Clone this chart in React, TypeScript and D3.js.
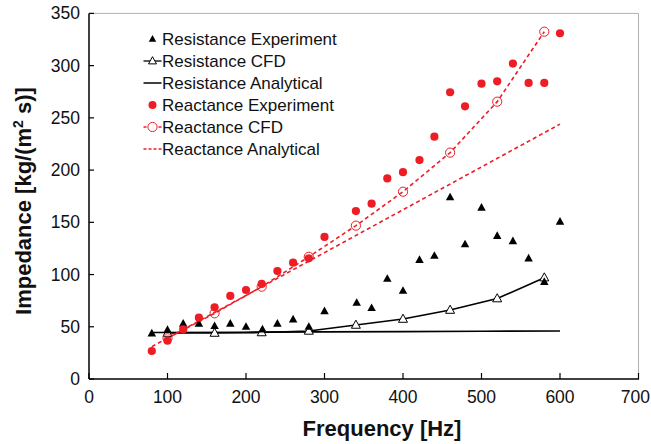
import React from "react";
import * as d3 from "d3";

const W = 651;
const H = 444;

const xTicks = [0, 100, 200, 300, 400, 500, 600, 700];
const yTicks = [0, 50, 100, 150, 200, 250, 300, 350];

const resExpF = [80, 100, 120, 140, 160, 180, 200, 221, 240, 260, 280, 300, 341, 360, 380, 400, 421, 440, 460, 479, 500, 520, 540, 560, 580, 600];
const resExpV = [43.7, 47, 53, 53, 50.7, 53, 50, 47.5, 53, 57, 50, 65, 73, 68, 96, 84.5, 114, 118, 174, 129, 164, 137, 132, 115.5, 93, 150.6];

const resCfdF = [100, 160, 220, 280, 340, 400, 460, 520, 580];
const resCfdV = [44, 44, 44.5, 46, 51.7, 57.4, 66, 77, 97];

const resAnaF = [80, 200, 300, 400, 500, 600];
const resAnaV = [44.5, 44.8, 45.1, 45.4, 45.7, 46];

const reaExpF = [80, 100, 120, 140, 160, 180, 200, 220, 240, 260, 280, 300, 340, 360, 380, 400, 421, 440, 460, 479, 500, 520, 540, 560, 580, 600];
const reaExpV = [26.8, 36.7, 47.5, 58.7, 68.6, 79.5, 85.2, 91, 103.4, 111.4, 115.5, 136, 160.8, 167.8, 192, 198, 209.6, 232, 274.5, 261, 282.7, 285, 302, 283.4, 283.4, 331];

const reaCfdF = [100, 160, 220, 280, 340, 400, 460, 520, 580];
const reaCfdV = [39, 62.9, 88.4, 117, 146.8, 179.3, 216.7, 265.5, 332.5];

const reaAnaF = [80, 200, 300, 400, 500, 600];
const reaAnaV = [31, 80, 121, 162, 203, 244];

const legendLabels = [
  "Resistance Experiment",
  "Resistance CFD",
  "Resistance Analytical",
  "Reactance Experiment",
  "Reactance CFD",
  "Reactance Analytical",
];

const FONT = "'Liberation Sans', Arial, sans-serif";
const RED = "#ee1c25";

function tri(cx: number, cy: number, s: number) {
  const h = s * 0.9;
  return `M${cx},${cy - h * 0.6}L${cx + s / 2},${cy + h * 0.4}L${cx - s / 2},${cy + h * 0.4}Z`;
}

export default function App() {
  const left = 89;
  const right = 638.5;
  const top = 13.4;
  const bottom = 379;
  const x = d3.scaleLinear().domain([0, 700]).range([left, right]);
  const y = d3.scaleLinear().domain([0, 350]).range([bottom, top]);
  const line = d3
    .line<[number, number]>()
    .x((d) => x(d[0]))
    .y((d) => y(d[1]));
  const zip = (a: number[], b: number[]) => a.map((v, i) => [v, b[i]] as [number, number]);

  const legX = 152.5;
  const legY0 = 39;
  const legDy = 22;
  const lastTick = xTicks[xTicks.length - 1];

  return (
    <svg width={W} height={H} style={{ position: "absolute", left: 0, top: 0 }} fontFamily={FONT}>
      <rect x={0} y={0} width={W} height={H} fill="#fff" />
      {/* frame */}
      <line x1={left} x2={right} y1={top} y2={top} stroke="#b0b0b0" strokeWidth={1} />
      <line x1={right} x2={right} y1={top} y2={bottom} stroke="#b0b0b0" strokeWidth={1} />
      {/* axes */}
      <line x1={left} x2={right + 0.5} y1={bottom} y2={bottom} stroke="#000" strokeWidth={1.5} />
      <line x1={left} x2={left} y1={top} y2={bottom} stroke="#000" strokeWidth={1.5} />
      {xTicks.map((t) => (
        <g key={"xt" + t}>
          <line x1={x(t)} x2={x(t)} y1={bottom} y2={bottom - 6} stroke="#000" strokeWidth={1.2} />
          <text
            x={t === lastTick ? W - 1 : x(t)}
            y={bottom + 24}
            textAnchor={t === lastTick ? "end" : "middle"}
            fontSize={17.5}
            fill="#111"
          >
            {t}
          </text>
        </g>
      ))}
      {yTicks.map((t) => (
        <g key={"yt" + t}>
          <line x1={left} x2={left + 5} y1={y(t)} y2={y(t)} stroke="#000" strokeWidth={1.2} />
          <text x={left - 9} y={y(t) + 6} textAnchor="end" fontSize={17.5} fill="#111">
            {t}
          </text>
        </g>
      ))}
      <text x={382} y={436} textAnchor="middle" fontSize={22} fontWeight="bold" fill="#111">
        Frequency [Hz]
      </text>
      <text
        transform={`translate(31,201) rotate(-90)`}
        textAnchor="middle"
        fontSize={22}
        fontWeight="bold"
        fill="#111"
      >
        Impedance [kg/(m
        <tspan dy={-8} fontSize={14}>2</tspan>
        <tspan dy={8}> s)]</tspan>
      </text>

      {/* lines */}
      <path d={line(zip(resAnaF, resAnaV)) || ""} fill="none" stroke="#000" strokeWidth={1.6} />
      <path d={line(zip(resCfdF, resCfdV)) || ""} fill="none" stroke="#000" strokeWidth={1.6} />
      <path d={line(zip(reaAnaF, reaAnaV)) || ""} fill="none" stroke={RED} strokeWidth={1.6} strokeDasharray="4,3" />
      <path d={line(zip(reaCfdF, reaCfdV)) || ""} fill="none" stroke={RED} strokeWidth={1.6} strokeDasharray="4,3" />

      {/* resistance CFD markers */}
      {resCfdF.map((f, i) => (
        <path key={"rc" + i} d={tri(x(f), y(resCfdV[i]), 9)} fill="#fff" stroke="#000" strokeWidth={1} />
      ))}
      {/* resistance exp */}
      {resExpF.map((f, i) => (
        <path key={"re" + i} d={tri(x(f), y(resExpV[i]), 8.5)} fill="#000" />
      ))}
      {/* reactance CFD markers */}
      {reaCfdF.map((f, i) => (
        <circle key={"xc" + i} cx={x(f)} cy={y(reaCfdV[i])} r={4.6} fill="none" stroke={RED} strokeWidth={1} />
      ))}
      {/* reactance exp */}
      {reaExpF.map((f, i) => (
        <circle key={"xe" + i} cx={x(f)} cy={y(reaExpV[i])} r={4.1} fill={RED} />
      ))}

      {/* legend */}
      {legendLabels.map((l, i) => {
        const cy = legY0 + i * legDy;
        let sym: React.ReactNode = null;
        if (i === 0) sym = <path d={tri(legX, cy, 7.5)} fill="#000" />;
        if (i === 1)
          sym = (
            <g>
              <line x1={legX - 9} x2={legX + 9} y1={cy} y2={cy} stroke="#000" strokeWidth={1.3} />
              <path d={tri(legX, cy, 8)} fill="#fff" stroke="#000" strokeWidth={1} />
            </g>
          );
        if (i === 2) sym = <line x1={legX - 9} x2={legX + 9} y1={cy} y2={cy} stroke="#000" strokeWidth={1.5} />;
        if (i === 3) sym = <circle cx={legX} cy={cy} r={4} fill={RED} />;
        if (i === 4)
          sym = (
            <g>
              <line x1={legX - 9} x2={legX + 9} y1={cy} y2={cy} stroke={RED} strokeWidth={1.3} strokeDasharray="3,2" />
              <circle cx={legX} cy={cy} r={4.6} fill="#fff" stroke={RED} strokeWidth={1} />
            </g>
          );
        if (i === 5)
          sym = <line x1={legX - 9} x2={legX + 9} y1={cy} y2={cy} stroke={RED} strokeWidth={1.5} strokeDasharray="3,2" />;
        return (
          <g key={"lg" + i}>
            {sym}
            <text x={162} y={cy + 6} fontSize={17} fill="#111">
              {l}
            </text>
          </g>
        );
      })}
    </svg>
  );
}
